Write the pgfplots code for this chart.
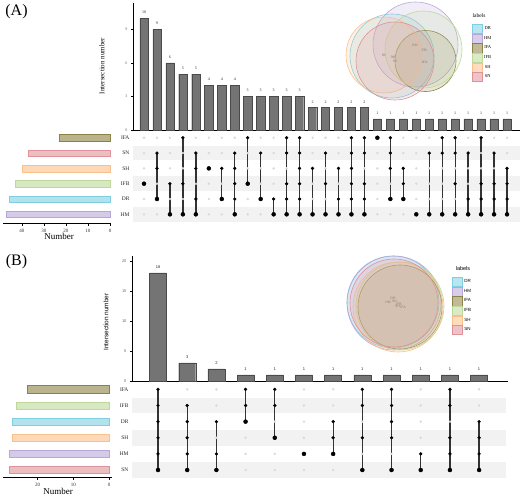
\documentclass[border=0pt]{standalone}
\usepackage{fontspec}
\setmainfont{Liberation Serif}
\setsansfont{Liberation Sans}
\usepackage{pgfplots}
\pgfplotsset{compat=1.18}
\usepackage{pgfplotstable}
\newcommand\fs[1]{\fontsize{#1}{#1}\selectfont}
\definecolor{cDR}{HTML}{7FCFE0}
\definecolor{cHM}{HTML}{B9A6D9}
\definecolor{cIFA}{HTML}{8C8243}
\definecolor{cIFB}{HTML}{BCD99A}
\definecolor{cSH}{HTML}{FBBF8A}
\definecolor{cSN}{HTML}{DE9299}
\definecolor{barfill}{HTML}{747474}
\definecolor{bardraw}{HTML}{4A4A4A}
\definecolor{stripe}{HTML}{F2F2F2}
\definecolor{dotgray}{HTML}{DADADA}

\pgfplotstableread{
col val IFA SN SH IFB DR HM lo hi
1 10 0 0 0 1 0 0 3 3
2 9 0 1 1 0 1 0 2 5
3 6 0 0 0 1 0 1 1 3
4 5 1 0 0 1 0 1 1 6
5 5 0 1 1 0 1 1 1 5
6 4 0 0 1 0 0 0 4 4
7 4 0 0 1 0 1 0 2 4
8 4 0 1 1 1 1 1 1 5
9 3 1 0 0 1 0 0 3 6
10 3 0 1 0 0 1 0 2 5
11 3 0 0 0 0 1 1 1 2
12 3 1 1 0 1 1 1 1 6
13 3 1 1 1 1 1 1 1 6
14 2 0 0 1 0 0 1 1 4
15 2 0 1 0 1 0 1 1 5
16 2 0 0 1 0 1 1 1 4
17 2 1 1 1 1 1 1 1 6
18 2 1 1 0 1 1 1 1 6
19 1 1 0 0 0 0 0 6 6
20 1 1 1 1 0 1 0 2 6
21 1 0 0 1 1 1 0 2 4
22 1 0 0 0 0 0 1 1 1
23 1 0 1 0 0 0 1 1 5
24 1 1 1 0 0 0 1 1 6
25 1 1 1 0 1 0 1 1 6
26 1 0 1 0 0 1 1 1 5
27 1 1 0 0 1 1 1 1 6
28 1 0 1 0 1 1 1 1 5
29 1 0 0 1 1 1 1 1 4
}\tblA

\pgfplotstableread{
col val IFA IFB DR SH HM SN lo hi
1 18 1 1 1 1 1 1 1 6
2 3 0 1 1 1 1 1 1 5
3 2 0 0 1 0 1 1 1 4
4 1 1 1 1 0 0 0 4 6
5 1 1 1 0 1 0 0 3 6
6 1 0 0 0 0 1 0 2 2
7 1 0 0 1 1 1 0 2 4
8 1 1 1 0 1 0 1 1 6
9 1 1 1 1 1 0 1 1 6
10 1 0 0 0 0 1 1 1 2
11 1 1 1 0 1 1 1 1 6
12 1 0 0 1 1 1 1 1 4
}\tblB

\pgfplotsset{
  upbar/.style={scale only axis, anchor=south west, enlargelimits=false, clip=false,
    axis x line=bottom, axis y line=left, axis line style={-, black, line width=0.5pt},
    xtick=\empty, tick align=outside, major tick length=2pt,
    ytick style={black, line width=0.4pt},
    /pgf/number format/assume math mode=true},
  mat/.style={scale only axis, anchor=south west, enlargelimits=false, clip=false,
    axis line style={draw=none}, xtick=\empty, ytick={1,...,6}, major tick length=0pt,
    yticklabel style={font=\fs{5.5}, text=black!85}},
  setbar/.style={scale only axis, anchor=south west, enlargelimits=false, clip=false,
    x dir=reverse, axis x line=bottom, axis y line=none, axis line style={-, black, line width=0.5pt},
    tick align=outside, major tick length=2pt, xtick style={black, line width=0.4pt},
    xticklabel style={font=\fs{5}, text=black!80},
    /pgf/number format/assume math mode=true},
  venn/.style={scale only axis, anchor=south west, hide axis, clip=false,
    legend style={draw=none, fill=none, inner sep=0pt, row sep=0pt,
      nodes={inner xsep=1.5pt, inner ysep=0.5pt}}},
  circ/.style={only marks, mark=*, mark options={draw=#1, fill=#1, fill opacity=0.2, line width=0.6pt},
    legend image code/.code={\draw[draw=#1, fill=#1, fill opacity=0.55, line width=0.4pt] (0pt,-4.6pt) rectangle (10pt,4.6pt);}},
  graydots/.style={only marks, mark=*, mark size=1pt, color=dotgray},
  blackdots/.style={only marks, mark=*, mark size=1.45pt, color=black, restrict y to domain=0.5:7},
  links/.style={only marks, mark=none, error bars/.cd, y dir=plus, y explicit, error mark=none,
    error bar style={line width=1.3pt, color=black!80}},
}

\begin{document}
\begin{tikzpicture}
\useasboundingbox (0pt,0pt) rectangle (522pt,497pt);
\node[font=\fs{16}] at (16.5pt,485.5pt) {(A)};
\node[font=\fs{16}] at (16.5pt,235.5pt) {(B)};

% ================= PANEL A =================
\node[rotate=90, font=\fs{7}] at (102pt,431pt) {Intersection number};
\node[font=\fs{9}] at (59pt,260.3pt) {Number};

\begin{axis}[upbar, at={(133pt,367pt)}, width=387pt, height=127pt,
  xmin=0.1515, xmax=30, ymin=0, ymax=11.37, ytick={0,3,6,9},
  yticklabel style={font=\fs{4}, text=black!60}]
\addplot[ybar, bar width=8.3pt, bar shift=0pt, fill=barfill, draw=bardraw, line width=0.4pt,
  nodes near coords, nodes near coords style={font=\fs{4}, text=black!85, yshift=1pt}]
  table[x=col, y=val] {\tblA};
\end{axis}

\begin{axis}[mat, at={(133pt,275pt)}, width=387pt, height=91.9pt,
  xmin=0.1515, xmax=30, ymin=0.5, ymax=6.5, yticklabels={HM,DR,IFB,SH,SN,IFA}]
\addplot[fill=stripe, draw=none] coordinates {(0.1515,0.52) (30,0.52) (30,1.48) (0.1515,1.48)} -- cycle;
\addplot[fill=stripe, draw=none] coordinates {(0.1515,2.52) (30,2.52) (30,3.48) (0.1515,3.48)} -- cycle;
\addplot[fill=stripe, draw=none] coordinates {(0.1515,4.52) (30,4.52) (30,5.48) (0.1515,5.48)} -- cycle;
\addplot[graydots] table[x=col, y expr=1] {\tblA};
\addplot[graydots] table[x=col, y expr=2] {\tblA};
\addplot[graydots] table[x=col, y expr=3] {\tblA};
\addplot[graydots] table[x=col, y expr=4] {\tblA};
\addplot[graydots] table[x=col, y expr=5] {\tblA};
\addplot[graydots] table[x=col, y expr=6] {\tblA};
\addplot[links] table[x=col, y=lo, y error expr=\thisrow{hi}-\thisrow{lo}] {\tblA};
\addplot[blackdots] table[x=col, y expr=6*\thisrow{IFA}] {\tblA};
\addplot[blackdots] table[x=col, y expr=5*\thisrow{SN}] {\tblA};
\addplot[blackdots] table[x=col, y expr=4*\thisrow{SH}] {\tblA};
\addplot[blackdots] table[x=col, y expr=3*\thisrow{IFB}] {\tblA};
\addplot[blackdots] table[x=col, y expr=2*\thisrow{DR}] {\tblA};
\addplot[blackdots] table[x=col, y expr=1*\thisrow{HM}] {\tblA};
\end{axis}

\begin{axis}[setbar, at={(3pt,273.3pt)}, width=108pt, height=93.4pt,
  xmin=-0.45, xmax=48.6, ymin=0.386, ymax=6.5, xtick={0,10,20,30,40}]
\addplot[xbar, bar width=6.6pt, bar shift=0pt, fill=cIFA, fill opacity=0.6, draw=cIFA] coordinates {(23,6)};
\addplot[xbar, bar width=6.6pt, bar shift=0pt, fill=cSN, fill opacity=0.6, draw=cSN] coordinates {(37,5)};
\addplot[xbar, bar width=6.6pt, bar shift=0pt, fill=cSH, fill opacity=0.6, draw=cSH] coordinates {(40,4)};
\addplot[xbar, bar width=6.6pt, bar shift=0pt, fill=cIFB, fill opacity=0.6, draw=cIFB] coordinates {(43,3)};
\addplot[xbar, bar width=6.6pt, bar shift=0pt, fill=cDR, fill opacity=0.6, draw=cDR] coordinates {(46,2)};
\addplot[xbar, bar width=6.6pt, bar shift=0pt, fill=cHM, fill opacity=0.6, draw=cHM] coordinates {(47,1)};
\end{axis}

\begin{axis}[venn, at={(330pt,387pt)}, width=192pt, height=110pt,
  xmin=330, xmax=522, ymin=387, ymax=497,
  legend style={at={(axis cs:472,473)}, anchor=north west, font=\fs{4.5}}]
\addplot[circ=cDR, mark size=42pt] coordinates {(392,441)};
\addlegendentry{DR}
\addplot[circ=cHM, mark size=42.5pt] coordinates {(415.5,452.5)};
\addlegendentry{HM}
\addplot[circ=cIFA, mark size=30.5pt] coordinates {(425.5,436)};
\addlegendentry{IFA}
\addplot[circ=cIFB, mark size=38.5pt] coordinates {(423.5,447.5)};
\addlegendentry{IFB}
\addplot[circ=cSH, mark size=38pt] coordinates {(384,442)};
\addlegendentry{SH}
\addplot[circ=cSN, mark size=39pt] coordinates {(395,436)};
\addlegendentry{SN}
\node[font=\fs{5.5}] at (axis cs:479,481) {labels};
\node[font=\fs{3.5}] at (axis cs:384,442) {SH};
\node[font=\fs{3.5}] at (axis cs:393,440) {DR};
\node[font=\fs{3.5}] at (axis cs:395,435.5) {SN};
\node[font=\fs{3.5}] at (axis cs:415,452) {HM};
\node[font=\fs{3.5}] at (axis cs:424,447) {IFB};
\node[font=\fs{3.5}] at (axis cs:425,435) {IFA};
\end{axis}

% ================= PANEL B =================
\node[rotate=90, font=\sffamily\fs{6.5}] at (106pt,175pt) {Intersection number};
\node[font=\fs{9}] at (58pt,5.3pt) {Number};

\begin{axis}[upbar, at={(132pt,116pt)}, width=376pt, height=125pt,
  xmin=0.109, xmax=12.99, ymin=0, ymax=20.83, ytick={0,5,10,15,20},
  yticklabel style={font=\sffamily\fs{4}, text=black!60}]
\addplot[ybar, bar width=17pt, bar shift=0pt, fill=barfill, draw=bardraw, line width=0.4pt,
  nodes near coords, nodes near coords style={font=\sffamily\fs{4}, text=black!85, yshift=1pt}]
  table[x=col, y=val] {\tblB};
\end{axis}

\begin{axis}[mat, at={(132pt,18.9pt)}, width=376pt, height=96.8pt,
  xmin=0.109, xmax=12.99, ymin=0.5, ymax=6.5, yticklabels={SN,HM,SH,DR,IFB,IFA}]
\addplot[fill=stripe, draw=none] coordinates {(0.109,0.52) (12.93,0.52) (12.93,1.48) (0.109,1.48)} -- cycle;
\addplot[fill=stripe, draw=none] coordinates {(0.109,2.52) (12.93,2.52) (12.93,3.48) (0.109,3.48)} -- cycle;
\addplot[fill=stripe, draw=none] coordinates {(0.109,4.52) (12.93,4.52) (12.93,5.48) (0.109,5.48)} -- cycle;
\addplot[graydots] table[x=col, y expr=1] {\tblB};
\addplot[graydots] table[x=col, y expr=2] {\tblB};
\addplot[graydots] table[x=col, y expr=3] {\tblB};
\addplot[graydots] table[x=col, y expr=4] {\tblB};
\addplot[graydots] table[x=col, y expr=5] {\tblB};
\addplot[graydots] table[x=col, y expr=6] {\tblB};
\addplot[links] table[x=col, y=lo, y error expr=\thisrow{hi}-\thisrow{lo}] {\tblB};
\addplot[blackdots] table[x=col, y expr=6*\thisrow{IFA}] {\tblB};
\addplot[blackdots] table[x=col, y expr=5*\thisrow{IFB}] {\tblB};
\addplot[blackdots] table[x=col, y expr=4*\thisrow{DR}] {\tblB};
\addplot[blackdots] table[x=col, y expr=3*\thisrow{SH}] {\tblB};
\addplot[blackdots] table[x=col, y expr=2*\thisrow{HM}] {\tblB};
\addplot[blackdots] table[x=col, y expr=1*\thisrow{SN}] {\tblB};
\end{axis}

\begin{axis}[setbar, at={(3pt,19.3pt)}, width=109pt, height=96.5pt,
  xmin=-0.84, xmax=29.69, ymin=0.523, ymax=6.5, xtick={0,10,20}]
\addplot[xbar, bar width=7.3pt, bar shift=0pt, fill=cIFA, fill opacity=0.6, draw=cIFA] coordinates {(23,6)};
\addplot[xbar, bar width=7.3pt, bar shift=0pt, fill=cIFB, fill opacity=0.6, draw=cIFB] coordinates {(26,5)};
\addplot[xbar, bar width=7.3pt, bar shift=0pt, fill=cDR, fill opacity=0.6, draw=cDR] coordinates {(27,4)};
\addplot[xbar, bar width=7.3pt, bar shift=0pt, fill=cSH, fill opacity=0.6, draw=cSH] coordinates {(27,3)};
\addplot[xbar, bar width=7.3pt, bar shift=0pt, fill=cHM, fill opacity=0.6, draw=cHM] coordinates {(28,2)};
\addplot[xbar, bar width=7.3pt, bar shift=0pt, fill=cSN, fill opacity=0.6, draw=cSN] coordinates {(28,1)};
\end{axis}

\begin{axis}[venn, at={(330pt,137pt)}, width=192pt, height=110pt,
  xmin=330, xmax=522, ymin=137, ymax=247,
  legend style={at={(axis cs:452,220)}, anchor=north west, font=\sffamily\fs{4.5},
    nodes={inner xsep=1.5pt, inner ysep=0.3pt}}]
\addplot[circ=cDR, mark size=46pt] coordinates {(393,195)};
\addlegendentry{DR}
\addplot[circ=cHM, mark size=47pt] coordinates {(394,194)};
\addlegendentry{HM}
\addplot[circ=cIFA, mark size=42pt] coordinates {(400,190)};
\addlegendentry{IFA}
\addplot[circ=cIFB, mark size=44pt] coordinates {(400,191)};
\addlegendentry{IFB}
\addplot[circ=cSH, mark size=45pt] coordinates {(398,190)};
\addlegendentry{SH}
\addplot[circ=cSN, mark size=44pt] coordinates {(394,194)};
\addlegendentry{SN}
\node[font=\sffamily\fs{5.5}] at (axis cs:463,228) {labels};
\node[font=\sffamily\fs{3.5}] at (axis cs:393,198.5) {DR};
\node[font=\sffamily\fs{3.5}] at (axis cs:388,195) {HM};
\node[font=\sffamily\fs{3.5}] at (axis cs:394.5,195.5) {SN};
\node[font=\sffamily\fs{3.5}] at (axis cs:397.5,190.5) {SH};
\node[font=\sffamily\fs{3.5}] at (axis cs:399,193) {IFB};
\node[font=\sffamily\fs{3.5}] at (axis cs:403,190) {IFA};
\end{axis}
\end{tikzpicture}
\end{document}
